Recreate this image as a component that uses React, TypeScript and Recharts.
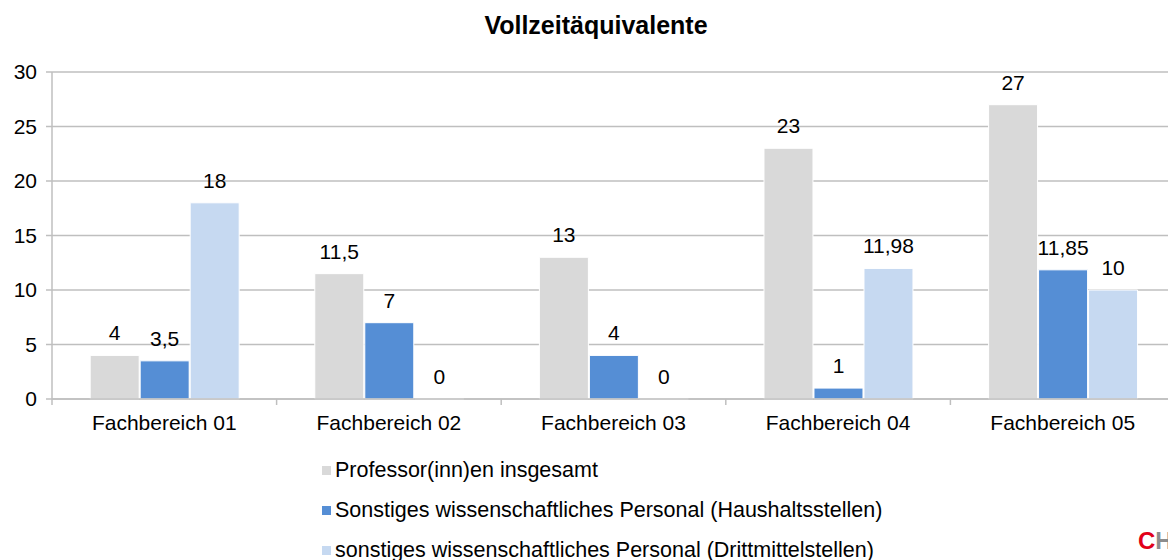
import { BarChart, Bar, XAxis, YAxis, CartesianGrid, Legend, LabelList } from 'recharts';

const categories = ['Fachbereich 01', 'Fachbereich 02', 'Fachbereich 03', 'Fachbereich 04', 'Fachbereich 05'];
const professoren = [4, 11.5, 13, 23, 27];
const haushalt = [3.5, 7, 4, 1, 11.85];
const drittmittel = [18, 0, 0, 11.98, 10];
const yTicks = [0, 5, 10, 15, 20, 25, 30];

const SERIES = [
  { key: 'prof', name: 'Professor(inn)en insgesamt', color: '#d9d9d9' },
  { key: 'haus', name: 'Sonstiges wissenschaftliches Personal (Haushaltsstellen)', color: '#558ed5' },
  { key: 'dritt', name: 'sonstiges wissenschaftliches Personal (Drittmittelstellen)', color: '#c6d9f1' },
];

const data = categories.map((name, i) => ({
  name,
  prof: professoren[i],
  haus: haushalt[i],
  dritt: drittmittel[i],
}));

const FONT = 'Arial, "Liberation Sans", sans-serif';
const GRID = '#bfbfbf';

const fmt = (v: any) => String(v).replace('.', ',');

function CategoryTick(props: any) {
  const { x, y, payload } = props;
  const half = payload?.offset ?? 112;
  return (
    <g>
      <line x1={x - half} x2={x - half} y1={y - 14} y2={y - 8} stroke={GRID} strokeWidth={1.5} />
      <text x={x} y={y + 17} textAnchor="middle" fontSize={21} fill="#000" fontFamily={FONT}>
        {payload.value}
      </text>
    </g>
  );
}

function LegendBox() {
  return (
    <div style={{ fontFamily: FONT, fontSize: 21.5, color: '#000' }}>
      {SERIES.map((s) => (
        <div key={s.key} style={{ display: 'flex', alignItems: 'center', height: 40 }}>
          <span style={{ width: 9, height: 9, background: s.color, marginRight: 4, display: 'inline-block' }} />
          <span>{s.name}</span>
        </div>
      ))}
    </div>
  );
}

export default function App() {
  return (
    <div style={{ position: 'absolute', left: 0, top: 0, width: 1168, height: 560, overflow: 'hidden', background: '#fff' }}>
      <div
        style={{
          position: 'absolute', top: 11, left: 0, width: 1192, textAlign: 'center',
          fontFamily: FONT, fontWeight: 'bold', fontSize: 25, color: '#000',
        }}
      >
        Vollzeitäquivalente
      </div>
      <div style={{ position: 'absolute', left: 0, top: 0 }}>
        <BarChart
          width={1190}
          height={560}
          data={data}
          margin={{ top: 72, right: 15, left: 0, bottom: 131 }}
          barCategoryGap="17%"
          barGap={1}
        >
          <CartesianGrid vertical={false} stroke={GRID} strokeWidth={1.5} />
          <XAxis
            dataKey="name"
            height={30}
            axisLine={{ stroke: GRID, strokeWidth: 1.5 }}
            tickLine={false}
            tickSize={6}
            tickMargin={8}
            tick={<CategoryTick />}
            interval={0}
          />
          <YAxis
            width={52}
            domain={[0, 30]}
            ticks={yTicks}
            axisLine={{ stroke: GRID, strokeWidth: 1.5 }}
            tickLine={{ stroke: GRID, strokeWidth: 1.5 }}
            tickSize={6}
            tickMargin={9}
            tick={{ fontSize: 21, fill: '#000', fontFamily: FONT }}
          />
          <Legend
            layout="vertical"
            align="center"
            verticalAlign="middle"
            content={<LegendBox />}
            wrapperStyle={{ position: 'absolute', top: 450, left: 322, width: 760 }}
          />
          {SERIES.map((s) => (
            <Bar
              key={s.key}
              dataKey={s.key}
              name={s.name}
              fill={s.color}
              stroke="#fff"
              strokeWidth={1}
              minPointSize={0.01}
              isAnimationActive={false}
            >
              <LabelList
                dataKey={s.key}
                position="top"
                offset={15}
                formatter={fmt}
                style={{ fontSize: 21, fill: '#000', fontFamily: FONT }}
              />
            </Bar>
          ))}
        </BarChart>
      </div>
      <div
        style={{
          position: 'absolute', left: 1138, top: 527, fontFamily: FONT, fontWeight: 'bold', fontSize: 24,
        }}
      >
        <span style={{ color: '#e2001a' }}>C</span>
        <span style={{ color: '#8c8c8c' }}>H</span>
      </div>
    </div>
  );
}
